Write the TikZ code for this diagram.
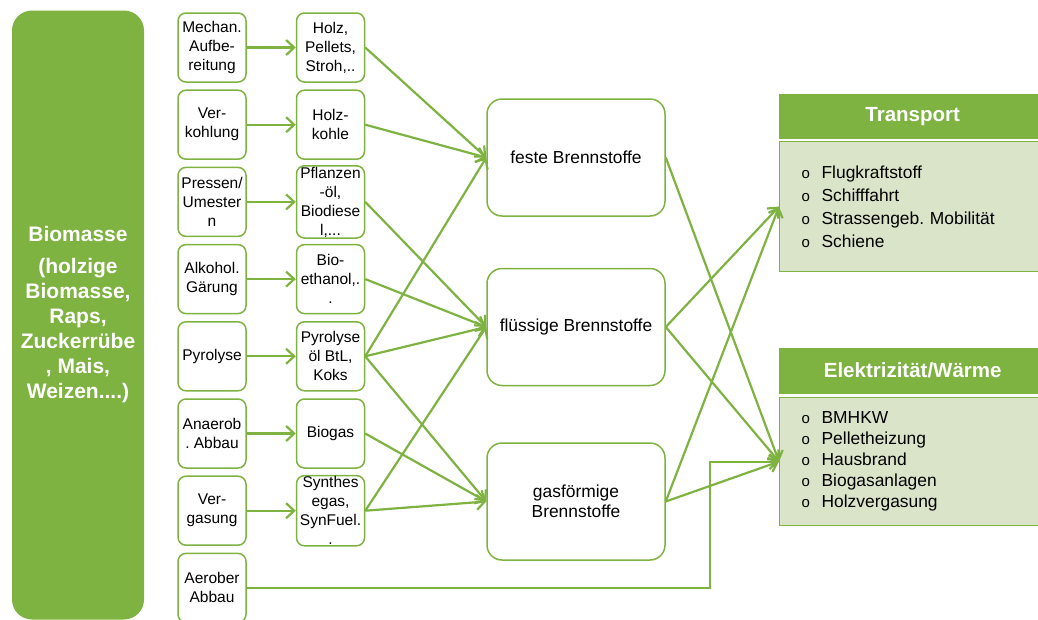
\documentclass[tikz,border=0pt]{standalone}
\usepackage{fontspec}
\setmainfont{Liberation Sans}
\usetikzlibrary{arrows.meta}
\definecolor{gruen}{HTML}{7EB241}
\definecolor{hellgruen}{HTML}{DAE4C8}
\tikzset{
	kasten/.style={draw=gruen,line width=1.5pt,rounded corners=8pt,
		minimum width=68pt,minimum height=69pt,inner sep=1pt,align=center,
		font=\fontsize{15.5}{19}\selectfont},
	stoff/.style={draw=gruen,line width=1.5pt,rounded corners=15pt,
		minimum width=178pt,minimum height=117pt,align=center,
		font=\fontsize{17.4}{20}\selectfont},
	pfeil/.style={draw=gruen,line width=2.2pt,
		-{Straight Barb[length=8pt,width=15pt]}},
	kopf/.style={fill=gruen,draw=gruen,anchor=north west,
		minimum width=267pt,minimum height=44pt,text=white,
		font=\fontsize{20.5}{24}\selectfont\bfseries},
	liste/.style={fill=hellgruen,draw=gruen,line width=1.2pt,anchor=north west,
		text width=270pt,inner xsep=22pt,align=left}
}
\newcommand{\Punkt}{\makebox[20pt][l]{\fontsize{15}{15}\selectfont o}}
\frenchspacing
\begin{document}
\begin{tikzpicture}[x=1pt,y=-1pt]
\useasboundingbox (0,0) rectangle (1038,619);
\node[fill=gruen,rounded corners=20pt,minimum width=132pt,minimum height=609pt,
	text=white,align=center,font=\fontsize{21}{25}\selectfont\bfseries]
	(bio) at (78,315) {Biomasse\\[7pt](holzige\\Biomasse,\\Raps,\\Zuckerrübe\\, Mais,\\Weizen....)};
% Verfahren
\foreach \Xc/\Texto in 
{0/{Mechan.\\Aufbe-\\reitung},1/{Ver-\\kohlung},2/{Pressen/\\Umester\\n},
 3/{Alkohol.\\Gärung},4/{Pyrolyse},5/{Anaerob\\. Abbau},6/{Ver-\\gasung},
 7/{Aerober\\Abbau}}
{
	\node[kasten] (v\Xc) at (212,47.5+77.2*\Xc) {\Texto};
}
% Produkte
\foreach \Xc/\Texto in 
{0/{Holz,\\Pellets,\\Stroh,..},1/{Holz-\\kohle},2/{Pflanzen\\-öl,\\Biodiese\\l,...},
 3/{Bio-\\ethanol,.\\.},4/{Pyrolyse\\öl BtL,\\Koks},5/{Biogas},
 6/{Synthes\\egas,\\SynFuel.\\.}}
{
	\node[kasten] (p\Xc) at (330.5,47.5+77.2*\Xc) {\Texto};
	\draw[pfeil] (v\Xc.east) -- (p\Xc.west);
}
\node[stoff] (fest) at (576,157.5) {feste Brennstoffe};
\node[stoff] (fluessig) at (576,327) {flüssige Brennstoffe};
\node[stoff] (gas) at (576,501.5) {gasförmige\\Brennstoffe};
% Nutzung
\node[kopf] (transkopf) at (779,94) {Transport};
\node[liste,minimum height=130pt,font=\fontsize{17.4}{23}\selectfont] (trans) at (779,141)
	{\Punkt Flugkraftstoff\\\Punkt Schifffahrt\\\Punkt Strassengeb. Mobilität\\\Punkt Schiene};
\node[kopf,minimum height=45pt] (waermekopf) at (779,348) {Elektrizität/Wärme};
\node[liste,minimum height=128pt,font=\fontsize{17.4}{21}\selectfont] (waerme) at (779,397)
	{\Punkt BMHKW\\\Punkt Pelletheizung\\\Punkt Hausbrand\\\Punkt Biogasanlagen\\\Punkt Holzvergasung};
\foreach \Von/\Nach in 
{0/fest,1/fest,2/fluessig,3/fluessig,4/fest,4/fluessig,4/gas,5/gas,6/fluessig,6/gas}
{
	\draw[pfeil] (p\Von.east) -- (\Nach.west);
}
\foreach \Von/\Nach in 
{fest/waerme,fluessig/trans,fluessig/waerme,gas/trans,gas/waerme}
{
	\draw[pfeil] (\Von.east) -- (\Nach.west);
}
\draw[pfeil] (v7.east) -| ([xshift=-69pt]waerme.west) -- (waerme.west);
\end{tikzpicture}
\end{document}
